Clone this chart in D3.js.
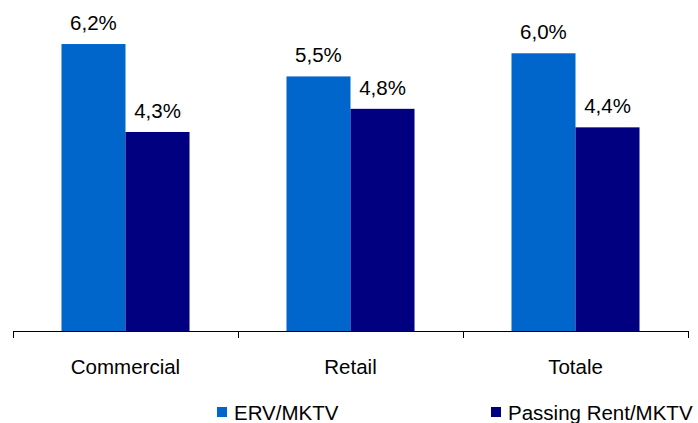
<!DOCTYPE html>
<html>
<head>
<meta charset="utf-8">
<script src="https://cdn.jsdelivr.net/npm/d3@7"></script>
<style>
  body { margin: 0; background: #fff; }
  text { font-family: Arial, "Liberation Sans", sans-serif; fill: #000; }
</style>
</head>
<body>
<script>
const width = 698,
    height = 423

const categories = ["Commercial", "Retail", "Totale"]
const seriesNames = ["ERV/MKTV", "Passing Rent/MKTV"]
const ervValues = [6.2, 5.5, 6.0]
const passingValues = [4.3, 4.8, 4.4]
const colors = ["#0066CC", "#000080"]

const fmt = (v) => v.toFixed(1).replace(".", ",") + "%"

const svg = d3.select("body")
    .append("svg")
    .attr("width", width)
    .attr("height", height)

const x0 = d3.scaleBand()
    .domain(categories)
    .range([13, 688])
    .paddingInner(0.431)
    .paddingOuter(0.2155)

const x1 = d3.scaleBand()
    .domain(seriesNames)
    .range([0, x0.bandwidth()])

const y = d3.scaleLinear()
    .domain([0, 7])
    .range([331, 7])

const data = categories.map((c, i) => ({
    cat: c,
    values: [ervValues[i], passingValues[i]]
}))

const groups = svg.selectAll("g.cat")
    .data(data)
    .join("g")
    .attr("class", "cat")
    .attr("transform", d => `translate(${x0(d.cat)},0)`)

groups.selectAll("rect")
    .data(d => d.values.map((v, j) => ({ name: seriesNames[j], v: v, j: j })))
    .join("rect")
    .attr("x", d => x1(d.name))
    .attr("y", d => y(d.v))
    .attr("width", x1.bandwidth())
    .attr("height", d => y(0) - y(d.v))
    .attr("fill", d => colors[d.j])

groups.selectAll("text.val")
    .data(d => d.values.map((v, j) => ({ name: seriesNames[j], v: v })))
    .join("text")
    .attr("class", "val")
    .attr("x", d => x1(d.name) + x1.bandwidth() / 2)
    .attr("y", d => y(d.v) - 14)
    .attr("text-anchor", "middle")
    .style("font-size", "20.5px")
    .text(d => fmt(d.v))

// axis line + tick marks at category boundaries
const axis = svg.append("g")
    .attr("stroke", "#000")
    .attr("stroke-width", 1)
const r = x0.range()
axis.append("line")
    .attr("x1", r[0]).attr("x2", r[1])
    .attr("y1", y(0) + 0.5).attr("y2", y(0) + 0.5)
d3.range(categories.length + 1).forEach(i => {
    const tx = Math.round(r[0] + i * x0.step()) + 0.5
    axis.append("line")
        .attr("x1", tx).attr("x2", tx)
        .attr("y1", y(0)).attr("y2", y(0) + 7)
})

svg.selectAll("text.cat")
    .data(categories)
    .join("text")
    .attr("class", "cat")
    .attr("x", d => x0(d) + x0.bandwidth() / 2)
    .attr("y", 374)
    .attr("text-anchor", "middle")
    .style("font-size", "20.5px")
    .text(d => d)

// legend
const legendX = [217, 491]
const legend = svg.selectAll("g.legend")
    .data(seriesNames)
    .join("g")
    .attr("class", "legend")
    .attr("transform", (d, i) => `translate(${legendX[i]},407)`)

legend.append("rect")
    .attr("width", 10)
    .attr("height", 10)
    .attr("fill", (d, i) => colors[i])

legend.append("text")
    .attr("x", 17)
    .attr("y", 13)
    .style("font-size", "20.5px")
    .text(d => d)
</script>
</body>
</html>
